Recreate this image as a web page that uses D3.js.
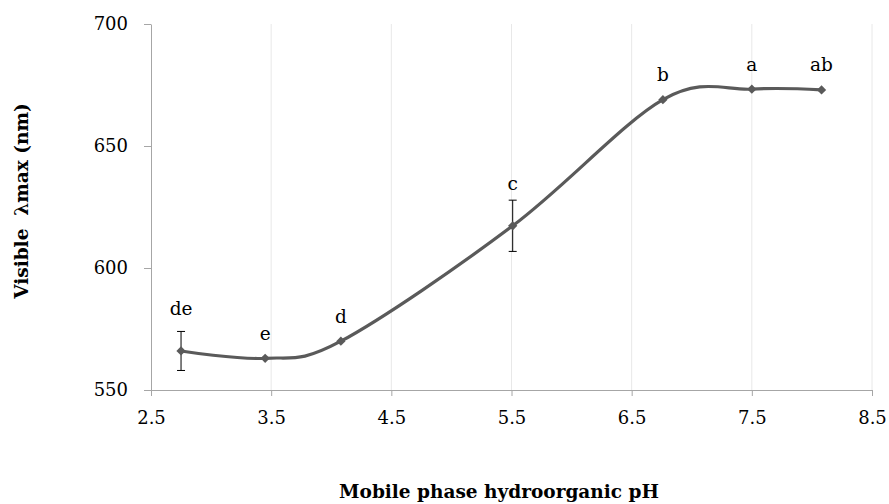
<!DOCTYPE html>
<html>
<head>
<meta charset="utf-8">
<style>
  body { margin: 0; background: #fff; }
  svg text { font-family: "DejaVu Serif", "Liberation Serif", serif; }
</style>
</head>
<body>
<svg width="889" height="504"></svg>
<script src="https://d3js.org/d3.v7.min.js"></script>
<script>
// data
var ph      = [2.75, 3.45, 4.08, 5.51, 6.76, 7.5, 8.08];
var lambda  = [566, 563, 570, 617.3, 669, 673.3, 673];
var errBar  = [8, 0, 0, 10.5, 0, 0, 0];
var letters = ["de", "e", "d", "c", "b", "a", "ab"];
var xTicks  = [2.5, 3.5, 4.5, 5.5, 6.5, 7.5, 8.5];
var yTicks  = [550, 600, 650, 700];

var svg = d3.select("svg");

var x = d3.scaleLinear().domain([2.5, 8.5]).range([151, 872]);
var y = d3.scaleLinear().domain([550, 700]).range([390, 24]);

var pts = ph.map(function(d, i) {
  return { x: d, y: lambda[i], e: errBar[i], lab: letters[i] };
});

// vertical gridlines
svg.append("g")
  .selectAll("line")
  .data(xTicks.slice(1))
  .enter().append("line")
  .attr("x1", function(d) { return x(d); })
  .attr("x2", function(d) { return x(d); })
  .attr("y1", y(700))
  .attr("y2", y(550))
  .attr("stroke", "#e8e8e8")
  .attr("stroke-width", 1);

// x axis
var gx = svg.append("g")
  .attr("transform", "translate(0," + y(550) + ")")
  .call(d3.axisBottom(x).tickValues(xTicks).tickFormat(d3.format(".1f")).tickSize(6).tickSizeOuter(0).tickPadding(15));
gx.select(".domain").attr("stroke", "#a6a6a6");
gx.selectAll(".tick line").attr("stroke", "#a6a6a6");
gx.selectAll("text").attr("font-size", "18px").attr("fill", "#000");

// y axis
var gy = svg.append("g")
  .attr("transform", "translate(" + x(2.5) + ",0)")
  .call(d3.axisLeft(y).tickValues(yTicks).tickSize(7).tickSizeOuter(0).tickPadding(16));
gy.select(".domain").attr("stroke", "#a6a6a6");
gy.selectAll(".tick line").attr("stroke", "#a6a6a6");
gy.selectAll("text").attr("font-size", "18px").attr("fill", "#000");

// smoothed line
var line = d3.line()
  .x(function(d) { return x(d.x); })
  .y(function(d) { return y(d.y); })
  .curve(d3.curveCardinal.tension(0));

svg.append("path")
  .datum(pts)
  .attr("d", line)
  .attr("fill", "none")
  .attr("stroke", "#5a5a5a")
  .attr("stroke-width", 3.2);

// error bars
var eb = svg.append("g")
  .selectAll("g")
  .data(pts.filter(function(d) { return d.e > 0; }))
  .enter().append("g");
eb.append("line")
  .attr("x1", function(d) { return x(d.x); })
  .attr("x2", function(d) { return x(d.x); })
  .attr("y1", function(d) { return y(d.y + d.e); })
  .attr("y2", function(d) { return y(d.y - d.e); })
  .attr("stroke", "#000").attr("stroke-width", 1);
[1, -1].forEach(function(s) {
  eb.append("line")
    .attr("x1", function(d) { return x(d.x) - 4; })
    .attr("x2", function(d) { return x(d.x) + 4; })
    .attr("y1", function(d) { return y(d.y + s * d.e); })
    .attr("y2", function(d) { return y(d.y + s * d.e); })
    .attr("stroke", "#000").attr("stroke-width", 1);
});

// diamond markers
svg.append("g")
  .selectAll("path")
  .data(pts)
  .enter().append("path")
  .attr("transform", function(d) { return "translate(" + x(d.x) + "," + y(d.y) + ")"; })
  .attr("d", d3.symbol().type(d3.symbolDiamond2).size(55))
  .attr("fill", "#5a5a5a");

// significance letters (raised further where an error bar sits)
svg.append("g")
  .selectAll("text")
  .data(pts)
  .enter().append("text")
  .attr("x", function(d) { return x(d.x); })
  .attr("y", function(d) { return y(d.y) - (d.e > 0 ? 36 : 18.5); })
  .attr("text-anchor", "middle")
  .attr("font-size", "18.5px")
  .attr("fill", "#000")
  .text(function(d) { return d.lab; });

// axis titles
svg.append("text")
  .attr("x", 499)
  .attr("y", 498)
  .attr("text-anchor", "middle")
  .attr("font-size", "18.5px")
  .attr("font-weight", "bold")
  .text("Mobile phase hydroorganic pH");

svg.append("text")
  .attr("transform", "translate(28,201) rotate(-90)")
  .attr("text-anchor", "middle")
  .attr("font-size", "18.5px")
  .attr("font-weight", "bold")
  .style("white-space", "pre")
  .text("Visible  \u03bbmax (nm)");
</script>
</body>
</html>
